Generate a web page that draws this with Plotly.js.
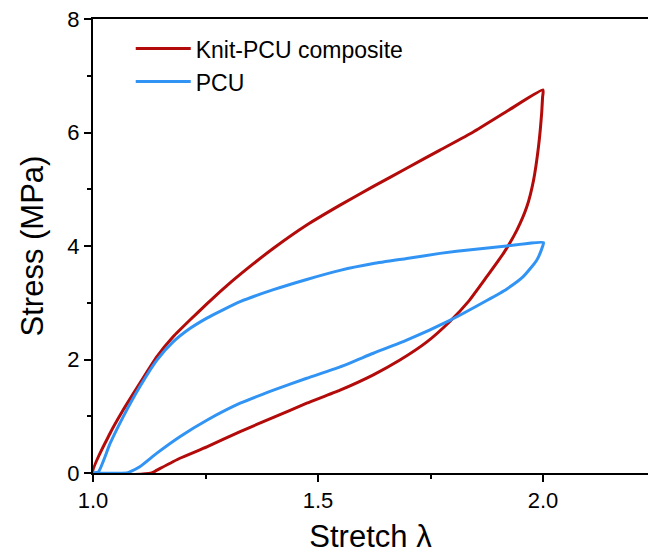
<!DOCTYPE html>
<html>
<head>
<meta charset="utf-8">
<script src="https://cdn.plot.ly/plotly-3.0.1.min.js"></script>
<style>html,body{margin:0;padding:0;background:#fff;}#chart{width:648px;height:556px;}</style>
</head>
<body>
<div id="chart"></div>
<script>
// Knit-PCU composite: loading then unloading
const knitX = [1.000,1.038,1.067,1.104,1.142,1.178,1.216,1.253,1.290,1.327,1.401,1.475,1.549,1.623,1.697,1.771,1.845,1.919,2.000,
               1.999,1.997,1.990,1.979,1.964,1.942,1.912,1.875,1.834,1.793,1.742,1.682,1.623,1.549,1.475,1.401,1.327,1.253,1.193,1.142,1.130,1.000];
const knitY = [0.00,0.70,1.11,1.58,2.05,2.40,2.70,2.98,3.25,3.50,3.96,4.37,4.72,5.05,5.37,5.69,6.01,6.37,6.75,
               6.62,6.34,5.75,5.16,4.69,4.28,3.87,3.46,3.02,2.67,2.31,1.99,1.73,1.46,1.23,0.98,0.73,0.46,0.26,0.05,0.00,0.00];
// PCU: loading then unloading
const pcuX = [1.000,1.012,1.038,1.067,1.104,1.142,1.178,1.216,1.253,1.290,1.327,1.401,1.475,1.549,1.623,1.697,1.771,1.845,1.919,2.001,
              1.999,1.986,1.956,1.919,1.875,1.793,1.697,1.623,1.549,1.475,1.401,1.327,1.253,1.193,1.142,1.104,1.082,1.075,1.000];
const pcuY = [0.00,0.02,0.52,0.99,1.52,1.99,2.31,2.55,2.73,2.88,3.02,3.23,3.41,3.57,3.69,3.78,3.87,3.94,4.00,4.06,
              3.99,3.75,3.46,3.24,3.04,2.69,2.34,2.11,1.87,1.67,1.46,1.23,0.93,0.64,0.35,0.11,0.02,0.00,0.00];
const seriesNames = ["Knit-PCU composite", "PCU"];
const xTickVals = [1.0, 1.5, 2.0];
const xTickText = ["1.0", "1.5", "2.0"];
const yTickVals = [0, 2, 4, 6, 8];

const traces = [
  {x: knitX, y: knitY, name: seriesNames[0], mode: "lines", type: "scatter",
   line: {color: "#b30a0a", width: 3, shape: "spline", smoothing: 0.5}},
  {x: pcuX, y: pcuY, name: seriesNames[1], mode: "lines", type: "scatter",
   line: {color: "#3194f4", width: 3, shape: "spline", smoothing: 0.5}}
];

const font = "Liberation Sans, Arial, sans-serif";
const layout = {
  width: 648, height: 556,
  margin: {l: 93, r: 0, t: 19, b: 83, pad: 0},
  paper_bgcolor: "#fff", plot_bgcolor: "#fff",
  font: {family: font, color: "#000", size: 22},
  showlegend: true,
  legend: {x: 0.068, y: 0.982, xanchor: "left", yanchor: "top",
           bgcolor: "rgba(0,0,0,0)", font: {family: font, size: 23, color: "#000"},
           itemwidth: 55, tracegroupgap: 0},
  xaxis: {
    range: [1.0, 2.2333], showgrid: false, zeroline: false,
    showline: true, linecolor: "#000", linewidth: 2, mirror: true,
    ticks: "outside", ticklen: 7, tickwidth: 2, tickcolor: "#000",
    tickvals: xTickVals, ticktext: xTickText,
    tickfont: {family: font, size: 22, color: "#000"},
    minor: {ticks: "outside", ticklen: 4, tickwidth: 2, tickcolor: "#000", tickvals: [1.25, 1.75, 2.25]},
    title: {text: "Stretch λ", font: {family: font, size: 31, color: "#000"}, standoff: 13}
  },
  yaxis: {
    range: [0, 8], showgrid: false, zeroline: false,
    showline: true, linecolor: "#000", linewidth: 2,
    ticks: "outside", ticklen: 7, tickwidth: 2, tickcolor: "#000",
    tickvals: yTickVals,
    tickfont: {family: font, size: 22, color: "#000"},
    minor: {ticks: "outside", ticklen: 4, tickwidth: 2, tickcolor: "#000", tickvals: [1, 3, 5, 7]},
    title: {text: "Stress (MPa)", font: {family: font, size: 31, color: "#000"}, standoff: 14}
  }
};

Plotly.newPlot("chart", traces, layout, {displayModeBar: false, staticPlot: true});
</script>
</body>
</html>
